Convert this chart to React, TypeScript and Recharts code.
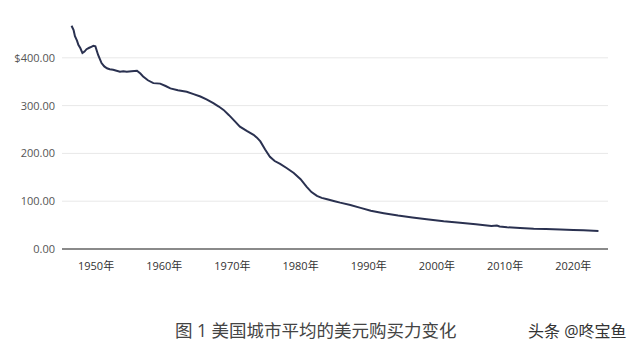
import React from 'react';
import { LineChart, Line, XAxis, YAxis, CartesianGrid } from 'recharts';

// year (fractional) and purchasing power of the dollar
const years = [
  1946.4, 1946.7, 1946.9, 1947.2, 1947.4, 1947.7, 1948.0, 1948.3, 1948.6, 1949.0,
  1949.3, 1949.6, 1949.9, 1950.3, 1950.8, 1951.2, 1951.6, 1952.0, 1952.5, 1953.0,
  1953.5, 1954.0, 1954.5, 1955.2, 1956.0, 1956.5, 1956.9, 1957.6, 1958.4, 1959.4,
  1960.2, 1960.9, 1962.0, 1963.3, 1964.3, 1965.3, 1966.2, 1967.2, 1968.0, 1968.7,
  1969.5, 1970.3, 1971.1, 1972.1, 1973.1, 1973.6, 1974.1, 1974.8, 1975.5, 1976.2,
  1977.0, 1978.0, 1979.0, 1980.0, 1980.9, 1981.6, 1982.4, 1983.1, 1983.9, 1985.0,
  1985.8, 1987.3, 1988.8, 1990.3, 1992.2, 1994.3, 1996.4, 1998.5, 2001.0, 2003.4,
  2005.7, 2008.0, 2008.8, 2009.2, 2010.3, 2012.2, 2014.2, 2016.0, 2018.1, 2020.0,
  2021.5, 2023.7,
];
const values = [
  467, 458, 445, 436, 427, 420, 410, 413, 418, 421,
  423, 425, 424, 406, 389, 382, 378, 376, 375, 373,
  371, 372, 371, 372, 373, 367, 361, 353, 347, 346,
  341, 336, 332, 329, 324, 319, 313, 305, 298, 291,
  280, 268, 256, 247, 239, 233, 225, 208, 193, 184,
  178, 169, 159, 146, 130, 119, 111, 107, 104, 100,
  97, 92, 86, 80, 75, 70, 66, 62, 58, 55,
  52, 48, 49, 47, 45.5, 44, 42.5, 42, 41, 40,
  39, 37.7,
];

const yTicks = [0, 100, 200, 300, 400];
const xTicks = [1950, 1960, 1970, 1980, 1990, 2000, 2010, 2020];

const data = years.map((year, i) => ({ year, value: values[i] }));

const font = "'Open Sans', 'Noto Sans CJK SC', sans-serif";

export default function App() {
  return (
    <div
      style={{
        position: 'fixed',
        left: 0,
        top: 0,
        width: 640,
        height: 351,
        background: '#fff',
        fontFamily: font,
      }}
    >
      <LineChart
        width={640}
        height={290}
        data={data}
        margin={{ top: 10, right: 32, bottom: 11, left: 0 }}
      >
        <CartesianGrid vertical={false} horizontalValues={yTicks} stroke="#e8e8e8" />
        <XAxis
          dataKey="year"
          type="number"
          domain={[1945, 2025.1]}
          ticks={xTicks}
          tickFormatter={(v: number) => `${v}年`}
          tickLine={false}
          axisLine={{ stroke: '#8a8a8a', strokeWidth: 2 }}
          tick={{ fill: '#333', fontSize: 11, fontFamily: font }}
          tickMargin={7}
          height={30}
        />
        <YAxis
          domain={[0, 500]}
          ticks={yTicks}
          tickFormatter={(v: number) => (v === 400 ? '$400.00' : v.toFixed(2))}
          tickLine={false}
          axisLine={false}
          tick={{ fill: '#555', fontSize: 11, fontFamily: font }}
          tickSize={0}
          tickMargin={7}
          width={62}
        />
        <Line
          type="linear"
          dataKey="value"
          stroke="#2a3150"
          strokeWidth={2}
          dot={false}
          isAnimationActive={false}
        />
      </LineChart>
      <div
        style={{
          position: 'absolute',
          left: 175,
          top: 317,
          fontSize: 17.5,
          color: '#444',
          whiteSpace: 'nowrap',
        }}
      >
        图 1 美国城市平均的美元购买力变化
      </div>
      <div
        style={{
          position: 'absolute',
          left: 528,
          top: 318,
          fontSize: 16,
          color: '#333',
          whiteSpace: 'nowrap',
        }}
      >
        头条 @咚宝鱼
      </div>
    </div>
  );
}
